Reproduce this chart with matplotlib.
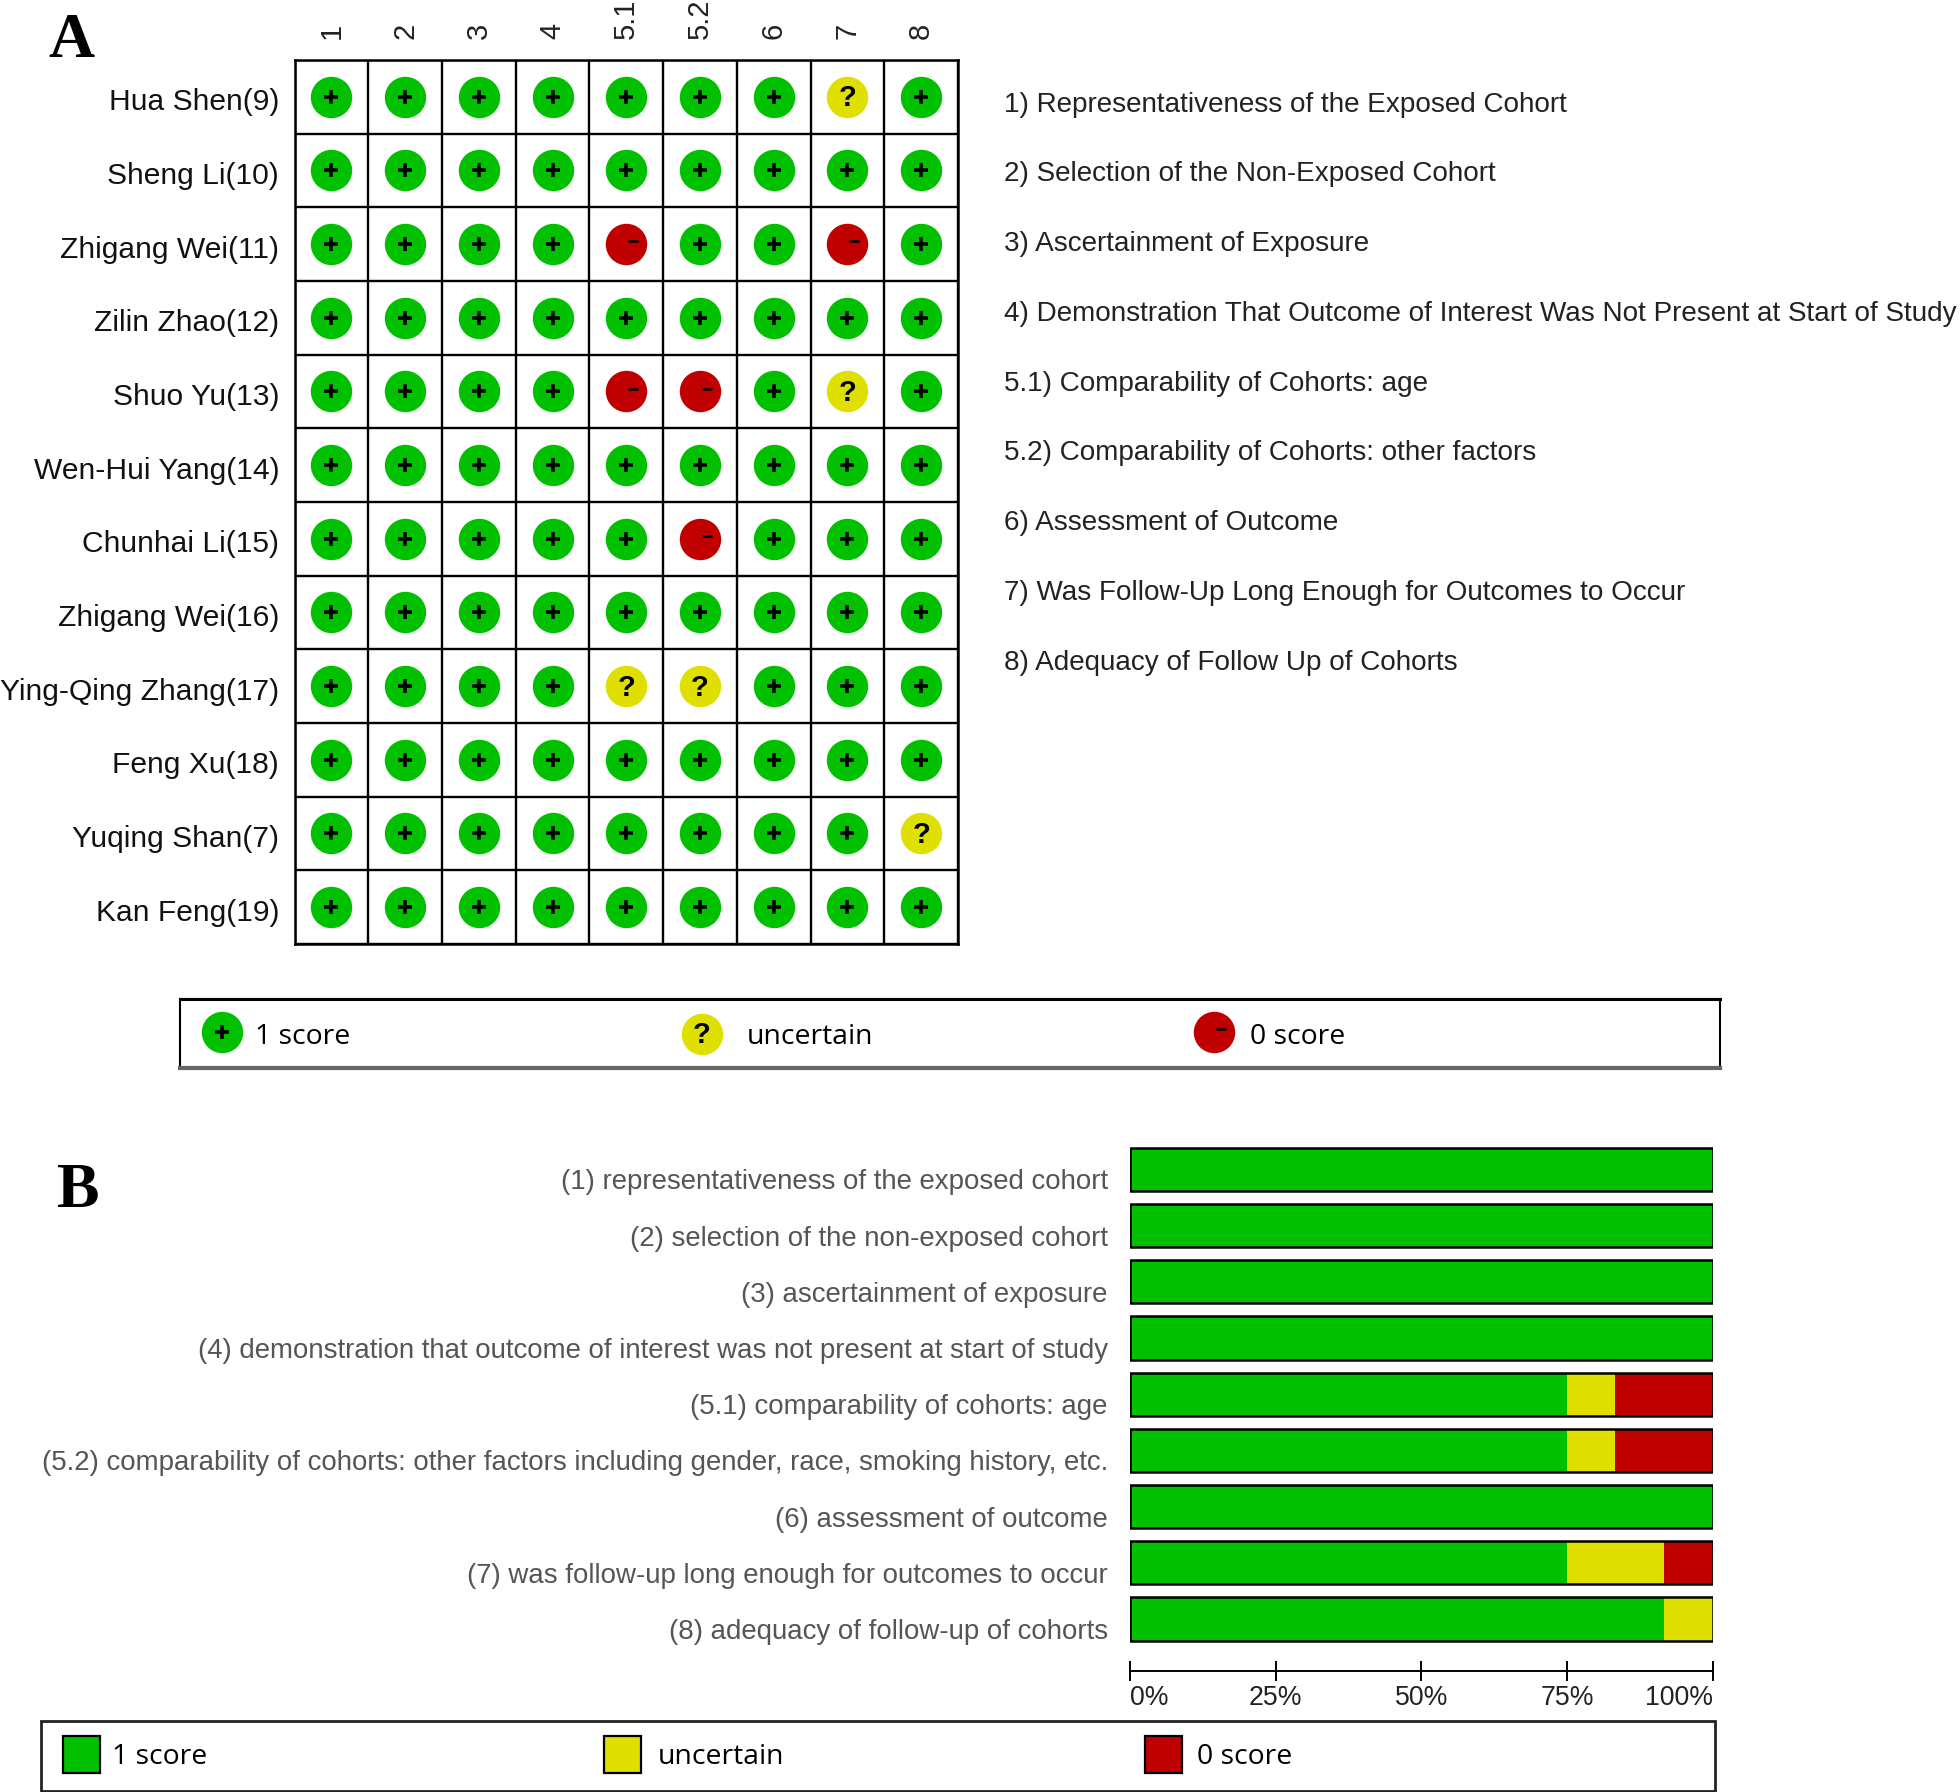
import numpy as np
import matplotlib
matplotlib.use('Agg')
import matplotlib.pyplot as plt
from matplotlib.patches import Rectangle
from matplotlib.transforms import offset_copy, ScaledTranslation

W, H = 1960, 1792
GREEN, YELLOW, RED = '#00C000', '#E0E000', '#C00000'

studies = ['Hua Shen(9)', 'Sheng Li(10)', 'Zhigang Wei(11)', 'Zilin Zhao(12)', 'Shuo Yu(13)',
           'Wen-Hui Yang(14)', 'Chunhai Li(15)', 'Zhigang Wei(16)', 'Ying-Qing Zhang(17)',
           'Feng Xu(18)', 'Yuqing Shan(7)', 'Kan Feng(19)']
items = ['1', '2', '3', '4', '5.1', '5.2', '6', '7', '8']

# one string per study, + score, ? uncertain, - no score
scores = ['+++++++?+',
          '+++++++++',
          '++++-++-+',
          '+++++++++',
          '++++--+?+',
          '+++++++++',
          '+++++-+++',
          '+++++++++',
          '++++??+++',
          '+++++++++',
          '++++++++?',
          '+++++++++']

notes = ['1) Representativeness of the Exposed Cohort',
         '2) Selection of the Non-Exposed Cohort',
         '3) Ascertainment of Exposure',
         '4) Demonstration That Outcome of Interest Was Not Present at Start of Study',
         '5.1) Comparability of Cohorts: age',
         '5.2) Comparability of Cohorts: other factors',
         '6) Assessment of Outcome',
         '7) Was Follow-Up Long Enough for Outcomes to Occur',
         '8) Adequacy of Follow Up of Cohorts']

domains = ['(1) representativeness of the exposed cohort',
           '(2) selection of the non-exposed cohort',
           '(3) ascertainment of exposure',
           '(4) demonstration that outcome of interest was not present at start of study',
           '(5.1) comparability of cohorts: age',
           '(5.2) comparability of cohorts: other factors including gender, race, smoking history, etc.',
           '(6) assessment of outcome',
           '(7) was follow-up long enough for outcomes to occur',
           '(8) adequacy of follow-up of cohorts']
pct_score = [100, 100, 100, 100, 75, 75, 100, 75, 91.67]
pct_uncertain = [0, 0, 0, 0, 8.33, 8.33, 0, 16.67, 8.33]
pct_zero = [0, 0, 0, 0, 16.67, 16.67, 0, 8.33, 0]

legend_labels = ['1 score', 'uncertain', '0 score']
legend_colors = [GREEN, YELLOW, RED]
legend_signs = ['+', '?', '-']


def axes_px(left, top, right, bottom):
    return fig.add_axes([left / W, 1 - bottom / H, (right - left) / W, (bottom - top) / H])


def shift_labels(labels, px_down):
    for label in labels:
        label.set_transform(label.get_transform() + ScaledTranslation(0, -px_down / 100, fig.dpi_scale_trans))


def draw_sign(ax, x, y, sign):
    # the minus sits up and to the right of the centre in the original
    if sign == '+':
        ax.plot(x, y, marker='+', ms=9.5, mew=2.6, color='black', zorder=4)
    elif sign == '-':
        shifted = offset_copy(ax.transData, fig=fig, x=5, y=2, units='points')
        ax.plot(x, y, marker='_', ms=7.5, mew=1.8, color='black', zorder=4, transform=shifted)
    else:
        shifted = offset_copy(ax.transData, fig=fig, x=0, y=-1, units='points')
        ax.text(x, y, '?', ha='center', va='center', fontsize=21, fontweight='bold',
                color='black', zorder=4, transform=shifted)


plt.rcParams['font.family'] = ['Liberation Sans', 'DejaVu Sans']
fig = plt.figure(figsize=(W / 100, H / 100), dpi=100, facecolor='white')

# Panel A
ax_a = axes_px(294.5, 60, 958, 944)
ax_a.set_xlim(0, len(items))
ax_a.set_ylim(len(studies), 0)
ax_a.set_xticks(np.arange(len(items)) + 0.5, items, rotation=90, fontsize=21, color='#222222')
ax_a.set_yticks(np.arange(len(studies)) + 0.5, studies, fontsize=21.6, color='#111111')
ax_a.xaxis.tick_top()
ax_a.tick_params(axis='both', length=0)
ax_a.tick_params(axis='y', pad=11)
ax_a.tick_params(axis='x', pad=14.8)
ax_a.set_xticks(np.arange(len(items) + 1), minor=True)
ax_a.set_yticks(np.arange(len(studies) + 1), minor=True)
ax_a.tick_params(which='minor', length=0)
ax_a.grid(which='minor', color='black', lw=1.7)
ax_a.set_axisbelow(True)
for spine in ax_a.spines.values():
    spine.set_linewidth(1.8)
shift_labels(ax_a.get_yticklabels(), 2.5)

color_for = {'+': GREEN, '?': YELLOW, '-': RED}
for r, row in enumerate(scores):
    for c, sign in enumerate(row):
        ax_a.scatter(c + 0.5, r + 0.5, s=890, color=color_for[sign], linewidths=0, zorder=3)
        draw_sign(ax_a, c + 0.5, r + 0.5, sign)

# Panel B
ax_b = axes_px(1130, 1141.4, 1712.5, 1647)
ys = np.arange(len(domains))
pct_score_a = np.array(pct_score)
pct_uncertain_a = np.array(pct_uncertain)
pct_zero_a = np.array(pct_zero)
ax_b.barh(ys, pct_score_a, height=0.77, color=GREEN)
ax_b.barh(ys, pct_uncertain_a, left=pct_score_a, height=0.77, color=YELLOW)
ax_b.barh(ys, pct_zero_a, left=pct_score_a + pct_uncertain_a, height=0.77, color=RED)
ax_b.barh(ys, pct_score_a + pct_uncertain_a + pct_zero_a, height=0.77, fill=False,
          edgecolor='black', linewidth=1.8, zorder=4)
ax_b.set_xlim(0, 100)
ax_b.set_ylim(len(domains) - 0.5, -0.5)
ax_b.set_yticks(ys, domains, fontsize=19.9, color='#555555')
ax_b.tick_params(axis='y', length=0, pad=16)
for side in ['top', 'left', 'right']:
    ax_b.spines[side].set_visible(False)
ax_b.spines['bottom'].set_position(('outward', 17.3))
ax_b.spines['bottom'].set_linewidth(1.4)
ax_b.set_xticks([0, 25, 50, 75, 100], ['0%', '25%', '50%', '75%', '100%'], fontsize=19.2, color='#222222')
ax_b.tick_params(axis='x', direction='inout', length=14.4, width=1.4, pad=3)
ax_b.get_xticklabels()[0].set_ha('left')
ax_b.get_xticklabels()[-1].set_ha('right')
shift_labels(ax_b.get_yticklabels(), 10)

# Overlay in pixels for the notes, the panel letters and the two legends
ax_o = axes_px(0, 0, W, H)
ax_o.set_xlim(0, W)
ax_o.set_ylim(H, 0)
ax_o.axis('off')
ax_o.patch.set_alpha(0)

ax_o.text(48, 57, 'A', family='Liberation Serif', fontweight='bold', fontsize=46, ha='left', va='baseline')
ax_o.text(57, 1207, 'B', family='Liberation Serif', fontweight='bold', fontsize=46, ha='left', va='baseline')

for i, note in enumerate(notes):
    ax_o.text(1004, 104.5 + i * 69.8, note, fontsize=20.05, ha='left', va='center', color='#222222')

# legend of panel A
ax_o.add_patch(Rectangle((180, 999), 1540, 69, fill=False, edgecolor='black', lw=1.5))
ax_o.plot([180, 1720], [1068.5, 1068.5], color='#666666', lw=3)
ax_o.plot([180, 1720], [999, 999], color='black', lw=2.2)
circle_x = [222, 702, 1214]
circle_y = [1032, 1034, 1032]
text_x = [255, 747, 1250]
for k in range(3):
    ax_o.scatter(circle_x[k], circle_y[k], s=890, color=legend_colors[k], linewidths=0, zorder=3)
    draw_sign(ax_o, circle_x[k], circle_y[k], legend_signs[k])
    ax_o.text(text_x[k], 1037.5, legend_labels[k], family='Open Sans', fontsize=20.4, ha='left', va='center')

# legend of panel B
ax_o.add_patch(Rectangle((41, 1721), 1674, 70, fill=False, edgecolor='#222222', lw=2))
square_x = [63, 604, 1145]
label_x = [112, 658, 1197]
for k in range(3):
    ax_o.add_patch(Rectangle((square_x[k], 1736), 37, 37, facecolor=legend_colors[k],
                             edgecolor='black', lw=1.6))
    ax_o.text(label_x[k], 1757, legend_labels[k], family='Open Sans', fontsize=20.4, ha='left', va='center')

fig.savefig('out.png', dpi=100, facecolor='white')
